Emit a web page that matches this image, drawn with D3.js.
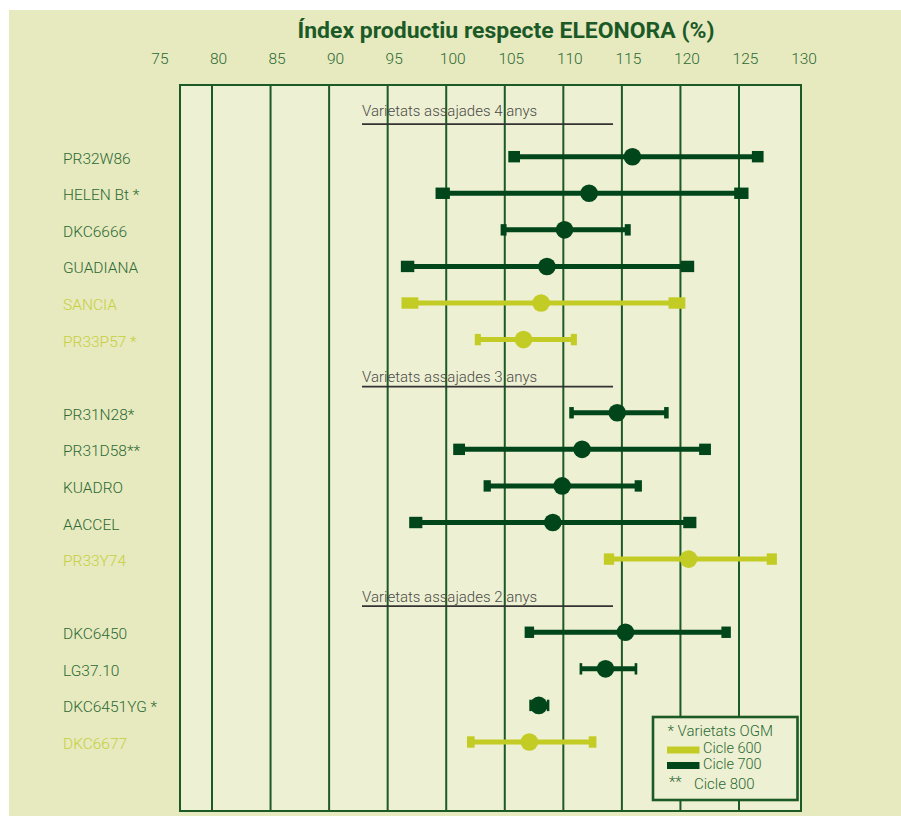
<!DOCTYPE html>
<html>
<head>
<meta charset="utf-8">
<script src="https://cdn.jsdelivr.net/npm/d3@7"></script>
<style>
  html, body { margin: 0; padding: 0; background: #ffffff; }
  svg { display: block; }
  text { font-family: Roboto, "Noto Sans", sans-serif; }
</style>
</head>
<body>
<svg id="chart" width="901" height="816"></svg>
<script>
// ---------------- DATA ----------------
const varieties = ["PR32W86", "HELEN Bt *", "DKC6666", "GUADIANA", "SANCIA", "PR33P57 *",
                   "PR31N28*", "PR31D58**", "KUADRO", "AACCEL", "PR33Y74",
                   "DKC6450", "LG37.10", "DKC6451YG *", "DKC6677"];
const cicle    = [700, 700, 700, 700, 600, 600, 700, 700, 700, 700, 600, 700, 700, 700, 600];
const yearsTested = [4, 4, 4, 4, 4, 4, 3, 3, 3, 3, 3, 2, 2, 2, 2];
const lowValues  = [105.8,  99.7, 104.9,  96.7,  96.9, 102.7, 110.7, 101.1, 103.5,  97.4, 113.9, 107.1, 111.5, 107.2, 102.1];
const meanValues = [115.9, 112.2, 110.1, 108.6, 108.1, 106.6, 114.6, 111.6, 109.9, 109.1, 120.7, 115.3, 113.6, 107.9, 107.1];
const highValues = [126.6, 125.2, 115.5, 120.6, 119.7, 110.9, 118.8, 122.1, 116.4, 120.8, 127.8, 123.9, 116.2, 108.7, 112.5];
const groupYears  = [4, 3, 2];
const groupTitles = ["Varietats assajades 4 anys", "Varietats assajades 3 anys", "Varietats assajades 2 anys"];
const tickValues  = [75, 80, 85, 90, 95, 100, 105, 110, 115, 120, 125, 130];
const gridValues  = [80, 85, 90, 95, 100, 105, 110, 115, 120, 125];
const legendItems = ["Cicle 600", "Cicle 700"];
const titleText = "Índex productiu respecte ELEONORA (%)";

// ---------------- STYLE ----------------
const DARK = "#00461a", LIGHT = "#c3cc24";
const LABEL_DARK = "#2c6933", LABEL_LIGHT = "#c6cf3c";
const GRID = "#1c5a26";
const OUTER_BG = "#e7e9bf", PLOT_BG = "#edf0d2";

const svg = d3.select("#chart");

// backgrounds
svg.append("rect").attr("x", 9).attr("y", 10).attr("width", 892).attr("height", 806).attr("fill", OUTER_BG);

const plot = { left: 180, right: 801, top: 85, bottom: 811 };
svg.append("rect").attr("x", plot.left).attr("y", plot.top)
  .attr("width", plot.right - plot.left).attr("height", plot.bottom - plot.top)
  .attr("fill", PLOT_BG);

// scales
const x = d3.scaleLinear().domain([80, 125]).range([212, 739]);
const slotY = d3.scaleLinear().domain([0, 17]).range([120.1, 742]);

// build row layout: each group takes one header slot, then one slot per variety
const rows = [];
const headers = [];
let slot = 0;
groupYears.forEach((gy, gi) => {
  headers.push({ title: groupTitles[gi], slot: slot, first: gi === 0 });
  slot++;
  varieties.forEach((v, i) => {
    if (yearsTested[i] === gy) {
      rows.push({ name: v, cicle: cicle[i], low: lowValues[i], mean: meanValues[i], high: highValues[i], slot: slot });
      slot++;
    }
  });
});

// grid lines
svg.append("g").selectAll("line").data(gridValues).join("line")
  .attr("x1", d => x(d)).attr("x2", d => x(d))
  .attr("y1", plot.top).attr("y2", plot.bottom)
  .attr("stroke", GRID).attr("stroke-width", 2);

// plot border
svg.append("rect").attr("x", plot.left).attr("y", plot.top)
  .attr("width", plot.right - plot.left).attr("height", plot.bottom - plot.top)
  .attr("fill", "none").attr("stroke", GRID).attr("stroke-width", 2);

// top axis tick labels
svg.append("g").selectAll("text").data(tickValues).join("text")
  .attr("x", d => x(d) + 6.5).attr("y", 64)
  .attr("text-anchor", "middle")
  .attr("font-size", 15.5).attr("font-weight", 300).attr("fill", "#2d6a34")
  .text(d => d);

// title
svg.append("text")
  .attr("x", 506).attr("y", 38)
  .attr("text-anchor", "middle")
  .attr("font-size", 22).attr("font-weight", 700).attr("fill", "#1b5a27")
  .attr("textLength", 417).attr("lengthAdjust", "spacingAndGlyphs")
  .text(titleText);

// group headers
const hg = svg.append("g").selectAll("g").data(headers).join("g");
hg.append("line")
  .attr("x1", 362).attr("x2", 613)
  .attr("y1", d => slotY(d.slot) + (d.first ? 4 : 10.5))
  .attr("y2", d => slotY(d.slot) + (d.first ? 4 : 10.5))
  .attr("stroke", "#333333").attr("stroke-width", 1.8);
hg.append("text")
  .attr("x", 362)
  .attr("y", d => slotY(d.slot) + (d.first ? -4 : 6))
  .attr("font-size", 15).attr("font-weight", 300).attr("fill", "#4a4a48")
  .text(d => d.title);

// variety labels
svg.append("g").selectAll("text").data(rows).join("text")
  .attr("x", 63).attr("y", d => slotY(d.slot) + 7)
  .attr("font-size", 15.5).attr("font-weight", 300)
  .attr("fill", d => d.cicle === 600 ? LABEL_LIGHT : LABEL_DARK)
  .text(d => d.name);

// range bars
const colorOf = d => d.cicle === 600 ? LIGHT : DARK;
const capFactor = d => d.cicle === 600 ? 0.063 : 0.048;
const bars = svg.append("g").selectAll("g").data(rows).join("g");
bars.append("line")
  .attr("x1", d => x(d.low)).attr("x2", d => x(d.high))
  .attr("y1", d => slotY(d.slot)).attr("y2", d => slotY(d.slot))
  .attr("stroke", colorOf).attr("stroke-width", 5);
const capW = d => Math.max(2.5, (x(d.high) - x(d.low)) * capFactor(d));
bars.append("rect")
  .attr("x", d => x(d.low) - capW(d) / 2).attr("y", d => slotY(d.slot) - 5.7)
  .attr("width", capW).attr("height", 11.4).attr("fill", colorOf);
bars.append("rect")
  .attr("x", d => x(d.high) - capW(d) / 2).attr("y", d => slotY(d.slot) - 5.7)
  .attr("width", capW).attr("height", 11.4).attr("fill", colorOf);
bars.append("circle")
  .attr("cx", d => x(d.mean)).attr("cy", d => slotY(d.slot))
  .attr("r", 8.8).attr("fill", colorOf);

// legend
const lg = svg.append("g");
lg.append("rect").attr("x", 653).attr("y", 717).attr("width", 144.5).attr("height", 83)
  .attr("fill", PLOT_BG).attr("stroke", GRID).attr("stroke-width", 2.6);
lg.append("text").attr("x", 667.5).attr("y", 736).attr("font-size", 15).attr("font-weight", 300).attr("fill", LABEL_DARK)
  .text("* Varietats OGM");
const legColors = [LIGHT, DARK];
legendItems.forEach((t, i) => {
  lg.append("rect").attr("x", 667).attr("y", 746.5 + i * 15.5).attr("width", 32.5).attr("height", 7)
    .attr("fill", legColors[i]);
  lg.append("text").attr("x", 703).attr("y", 752.5 + i * 16).attr("font-size", 14.5).attr("font-weight", 300).attr("fill", LABEL_DARK)
    .text(t);
});
lg.append("text").attr("x", 669).attr("y", 787).attr("font-size", 15).attr("font-weight", 300).attr("fill", LABEL_DARK).text("**");
lg.append("text").attr("x", 694).attr("y", 788.5).attr("font-size", 15).attr("font-weight", 300).attr("fill", LABEL_DARK).text("Cicle 800");
</script>
</body>
</html>
